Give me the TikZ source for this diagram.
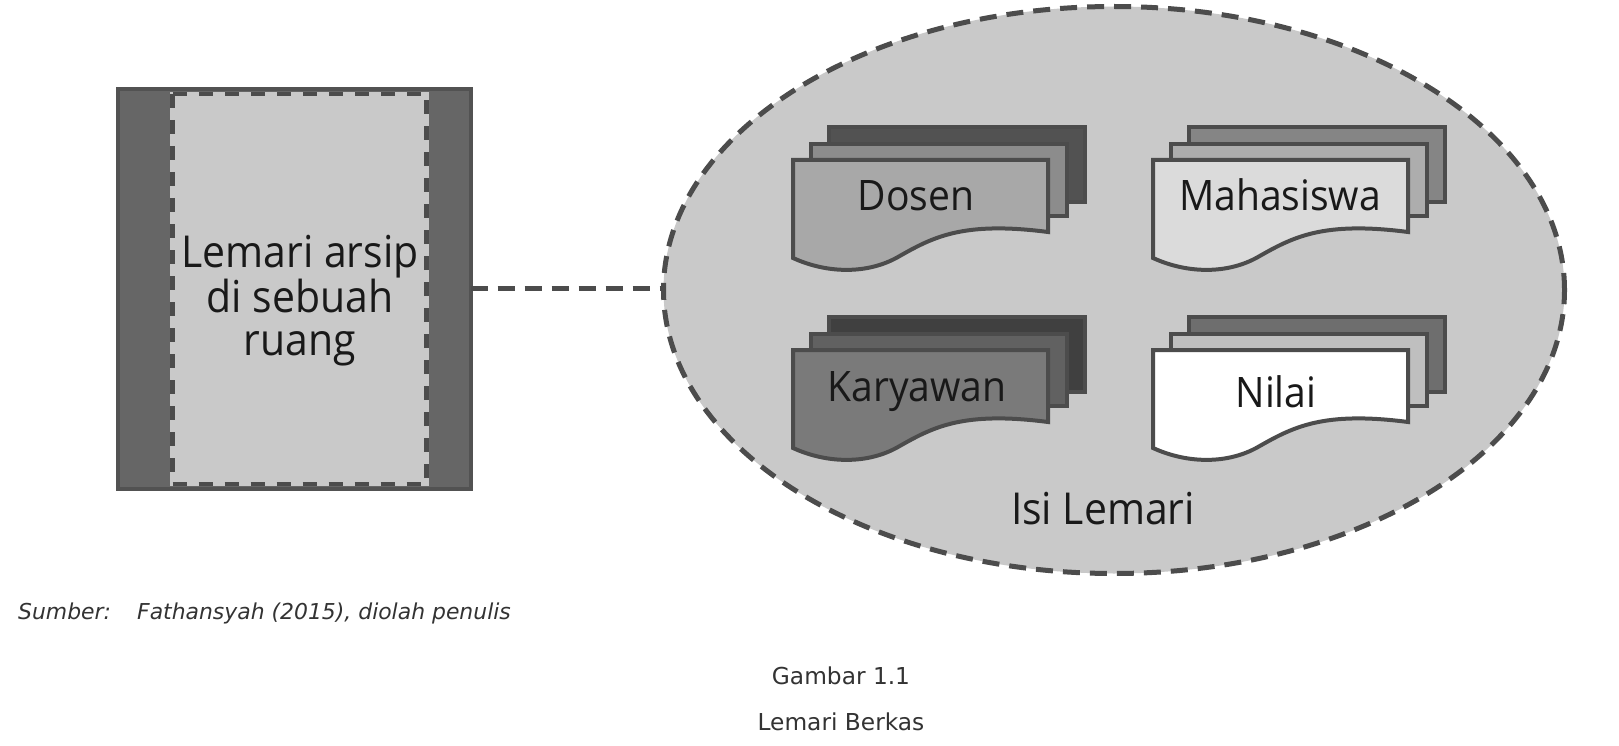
\documentclass[tikz,border=0pt]{standalone}
\usetikzlibrary{shapes.geometric}
\usepackage{fontspec}
\setmainfont[FakeStretch=0.93]{Open Sans}
\newfontfamily\capfont{DejaVu Sans}
\definecolor{edgec}{gray}{0.30}
\definecolor{ellc}{gray}{0.79}
\tikzset{
  x=1pt,y=-1pt,
  sheet/.style={draw=edgec,line width=4pt,line join=miter},
  doclabel/.style={font=\fontsize{42}{42}\selectfont,text=black!90,inner sep=0pt,anchor=base},
  biglabel/.style={font=\fontsize{44}{43}\selectfont,text=black!90,inner sep=0pt,align=center},
  caplabel/.style={font=\capfont\fontsize{23.3}{23.3}\selectfont,text=black!80,inner sep=0pt,anchor=base},
  dashline/.style={draw=edgec,line width=5pt,dash pattern=on 17pt off 10pt},
}
% #1 x, #2 y, #3 back fill, #4 middle fill, #5 front fill
\newcommand{\docstack}[6]{%
  \begin{scope}[shift={(#1,#2)}]
    \filldraw[sheet,fill=#3] (36,-34) rectangle (292,41);
    \filldraw[sheet,fill=#4] (18,-17) rectangle (274,55);
    \filldraw[sheet,fill=#5] (0,-1) -- (255,-1) -- (255,71)
      .. controls (170,60) and (140,76) .. (105,96)
      .. controls (75,113) and (35,113) .. (0,97) -- cycle;
    #6
  \end{scope}}
\begin{document}
\begin{tikzpicture}
\useasboundingbox (0,0) rectangle (1619,746);
\fill[white] (0,0) rectangle (1619,746);
% cabinet
\node[draw=black!68,line width=4pt,fill=black!60,minimum width=353pt,minimum height=400pt,inner sep=0pt,outer sep=0pt] (cab) at (294,289) {};
\node[draw=ellc,line width=4.5pt,fill=ellc,minimum width=254pt,minimum height=390pt,inner sep=0pt,outer sep=0pt] (door) at (299.5,289) {};
\draw[draw=edgec,line width=4.5pt,dash pattern=on 14pt off 12pt] (door.north west) rectangle (door.south east);
\node[biglabel] (lab) at (300,301) {Lemari arsip\\di sebuah\\ruang};
% ellipse
\node[ellipse,draw=edgec,dash pattern=on 17pt off 10pt,line width=5pt,fill=ellc,minimum width=901pt,minimum height=567pt,inner sep=0pt] (ell) at (1114,290) {};
\coordinate (cabj) at (cab.east |- 0,288);
\coordinate (ellj) at (ell.west |- 0,288);
\draw[dashline] (cabj) -- (ellj);
% docs
\docstack{793}{161}{black!68}{black!45}{black!34}{\node[doclabel] (d1) at (123,50) {Dosen};}
\docstack{1153}{161}{black!48}{black!32}{black!14}{\node[doclabel] (d2) at (127,50) {Mahasiswa};}
\docstack{793}{351}{black!75}{black!62}{black!52}{\node[doclabel] (d3) at (124,50) {Karyawan};}
\docstack{1153}{351}{black!57}{black!25}{white}{\node[doclabel] (d4) at (123,56) {Nilai};}
\node[biglabel,anchor=base] (isi) at (1103,524) {Isi Lemari};
% captions
\node[caplabel,font=\capfont\itshape\fontsize{21.9}{22}\selectfont,anchor=base west] (sb) at (18,619) {Sumber:};
\node[caplabel,font=\capfont\itshape\fontsize{21.9}{22}\selectfont,anchor=base west] (fs) at (137,619) {Fathansyah (2015), diolah penulis};
\node[caplabel] (g1) at (841,684) {Gambar 1.1};
\node[caplabel] (g2) at (841,730) {Lemari Berkas};
\end{tikzpicture}
\end{document}
